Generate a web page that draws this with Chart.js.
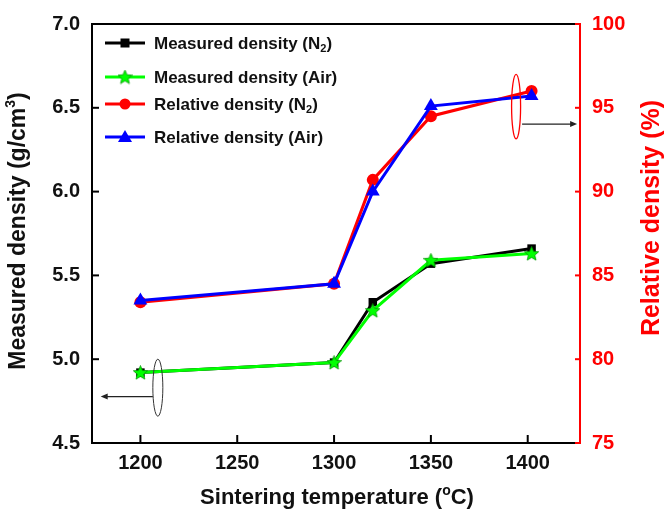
<!DOCTYPE html>
<html>
<head>
<meta charset="utf-8">
<script src="https://cdn.jsdelivr.net/npm/chart.js@4/dist/chart.umd.min.js"></script>
<style>
  body { margin: 0; background: #fff; }
  #wrap { width: 664px; height: 511px; position: relative; }
</style>
</head>
<body>
<div id="wrap"><canvas id="chart"></canvas></div>
<script>
// sintering temperatures (deg C)
const temps = [1200, 1300, 1320, 1350, 1402];
// measured density, g/cm3 (left axis)
const measuredN2 = [4.92, 4.98, 5.34, 5.57, 5.66];
const measuredAir = [4.92, 4.98, 5.29, 5.59, 5.63];
// relative density, % (right axis)
const relativeN2 = [83.4, 84.5, 90.7, 94.5, 96.0];
const relativeAir = [83.5, 84.5, 90.0, 95.1, 95.7];

const xTicks = [1200, 1250, 1300, 1350, 1400];
const yTicks = [4.5, 5.0, 5.5, 6.0, 6.5, 7.0];
const y1Ticks = [75, 80, 85, 90, 95, 100];

const FONT = "'Liberation Sans', Arial, sans-serif";
Chart.defaults.font.family = FONT;

// filled five point star used as point style
function makeStar(size, color) {
  const c = document.createElement('canvas');
  c.width = size;
  c.height = size;
  const g = c.getContext('2d');
  const cx = size / 2, cy = size / 2 + 0.5;
  const ro = size / 2, ri = ro * 0.45;
  g.beginPath();
  for (let i = 0; i < 10; i++) {
    const r = i % 2 === 0 ? ro : ri;
    const a = -Math.PI / 2 + i * Math.PI / 5;
    g.lineTo(cx + r * Math.cos(a), cy + r * Math.sin(a));
  }
  g.closePath();
  g.fillStyle = color;
  g.fill();
  g.strokeStyle = '#009900';
  g.lineWidth = 0.8;
  g.stroke();
  return c;
}
const star = makeStar(15, '#00ff00');

function pts(ys) {
  return temps.map((t, i) => ({ x: t, y: ys[i] }));
}

function drawArrow(ctx, x1, y, x2) {
  const dir = x2 > x1 ? 1 : -1;
  ctx.beginPath();
  ctx.moveTo(x1, y);
  ctx.lineTo(x2 - dir * 6, y);
  ctx.strokeStyle = '#222';
  ctx.lineWidth = 1.3;
  ctx.stroke();
  ctx.beginPath();
  ctx.moveTo(x2, y);
  ctx.lineTo(x2 - dir * 7, y - 3);
  ctx.lineTo(x2 - dir * 7, y + 3);
  ctx.closePath();
  ctx.fillStyle = '#222';
  ctx.fill();
}

// text with sub/superscript parts: [[text, 'n'|'sub'|'sup'], ...]
function richWidth(ctx, parts, size) {
  let w = 0;
  parts.forEach(([t, k]) => {
    ctx.font = 'bold ' + (k === 'n' ? size : Math.round(size * 0.62)) + 'px ' + FONT;
    w += ctx.measureText(t).width;
  });
  return w;
}
function richText(ctx, parts, x, y, size, color) {
  ctx.fillStyle = color;
  ctx.textBaseline = 'middle';
  ctx.textAlign = 'left';
  parts.forEach(([t, k]) => {
    let s = size, dy = 0;
    if (k === 'sub') { s = Math.round(size * 0.62); dy = size * 0.32; }
    if (k === 'sup') { s = Math.round(size * 0.62); dy = -size * 0.33; }
    ctx.font = 'bold ' + s + 'px ' + FONT;
    ctx.fillText(t, x, y + dy);
    x += ctx.measureText(t).width;
  });
}

const extras = {
  id: 'extras',
  afterDraw(chart) {
    const ctx = chart.ctx;
    const a = chart.chartArea;
    const xs = chart.scales.x, ys = chart.scales.y, ys1 = chart.scales.y1;
    ctx.save();

    // top frame line
    ctx.strokeStyle = '#000';
    ctx.lineWidth = 2;
    ctx.beginPath();
    ctx.moveTo(a.left, a.top);
    ctx.lineTo(a.right, a.top);
    ctx.stroke();

    // inward ticks
    ctx.lineWidth = 2;
    xTicks.forEach((v) => {
      const px = xs.getPixelForValue(v);
      ctx.beginPath(); ctx.moveTo(px, a.bottom); ctx.lineTo(px, a.bottom - 8); ctx.stroke();
    });
    yTicks.forEach((v) => {
      const py = ys.getPixelForValue(v);
      ctx.beginPath(); ctx.moveTo(a.left, py); ctx.lineTo(a.left + 7, py); ctx.stroke();
    });
    ctx.strokeStyle = '#ff0000';
    y1Ticks.forEach((v) => {
      const py = ys1.getPixelForValue(v);
      ctx.beginPath(); ctx.moveTo(a.right, py); ctx.lineTo(a.right - 5, py); ctx.stroke();
    });

    // ellipse + arrow for left axis group
    ctx.lineWidth = 1;
    ctx.strokeStyle = '#333';
    const ex = xs.getPixelForValue(1209);
    const eTop = ys.getPixelForValue(5.0), eBot = ys.getPixelForValue(4.66);
    ctx.beginPath();
    ctx.ellipse(ex, (eTop + eBot) / 2, 5, (eBot - eTop) / 2, 0, 0, Math.PI * 2);
    ctx.stroke();
    drawArrow(ctx, ex - 5, ys.getPixelForValue(4.777), xs.getPixelForValue(1179.5));

    // ellipse + arrow for right axis group
    ctx.strokeStyle = '#ff0000';
    const rx = xs.getPixelForValue(1394);
    const rTop = ys1.getPixelForValue(97.0), rBot = ys1.getPixelForValue(93.15);
    ctx.beginPath();
    ctx.ellipse(rx, (rTop + rBot) / 2, 4.5, (rBot - rTop) / 2, 0, 0, Math.PI * 2);
    ctx.stroke();
    drawArrow(ctx, rx + 6, ys1.getPixelForValue(94.03), xs.getPixelForValue(1425.5));

    // legend
    const rows = [
      { y: 43, color: '#000', shape: 'rect', parts: [['Measured density (N', 'n'], ['2', 'sub'], [')', 'n']] },
      { y: 77, color: '#00ff00', shape: 'star', parts: [['Measured density (Air)', 'n']] },
      { y: 104, color: '#ff0000', shape: 'circle', parts: [['Relative density (N', 'n'], ['2', 'sub'], [')', 'n']] },
      { y: 137, color: '#0000ff', shape: 'triangle', parts: [['Relative density (Air)', 'n']] }
    ];
    rows.forEach((r) => {
      ctx.strokeStyle = r.color;
      ctx.lineWidth = 3;
      ctx.beginPath(); ctx.moveTo(105, r.y); ctx.lineTo(145, r.y); ctx.stroke();
      ctx.fillStyle = r.color;
      const cx = 125;
      if (r.shape === 'rect') {
        ctx.fillRect(cx - 4.5, r.y - 4.5, 9, 9);
      } else if (r.shape === 'star') {
        ctx.drawImage(star, cx - 7.5, r.y - 7.5);
      } else if (r.shape === 'circle') {
        ctx.beginPath(); ctx.arc(cx, r.y, 5.5, 0, Math.PI * 2); ctx.fill();
      } else {
        ctx.beginPath();
        ctx.moveTo(cx, r.y - 7); ctx.lineTo(cx + 7, r.y + 5); ctx.lineTo(cx - 7, r.y + 5);
        ctx.closePath(); ctx.fill();
      }
      richText(ctx, r.parts, 154, r.y + 1, 17, '#111');
    });

    // axis titles
    const xt = [['Sintering temperature (', 'n'], ['o', 'sup'], ['C)', 'n']];
    const wx = richWidth(ctx, xt, 22);
    richText(ctx, xt, 337 - wx / 2, 498, 22, '#111');

    const yt = [['Measured density (g/cm', 'n'], ['3', 'sup'], [')', 'n']];
    const wy = richWidth(ctx, yt, 23);
    ctx.save();
    ctx.translate(19, 231);
    ctx.rotate(-Math.PI / 2);
    richText(ctx, yt, -wy / 2, 0, 23, '#111');
    ctx.restore();

    const y1t = [['Relative density (%)', 'n']];
    const wy1 = richWidth(ctx, y1t, 25);
    ctx.save();
    ctx.translate(652, 218);
    ctx.rotate(-Math.PI / 2);
    richText(ctx, y1t, -wy1 / 2, 0, 25, '#ff0000');
    ctx.restore();

    ctx.restore();
  }
};

const tickFont = { size: 20, weight: 'bold', family: FONT };

new Chart(document.getElementById('chart'), {
  type: 'line',
  data: {
    datasets: [
      {
        label: 'Relative density (Air)', data: pts(relativeAir), yAxisID: 'y1', order: 0,
        borderColor: '#0000ff', backgroundColor: '#0000ff', borderWidth: 3,
        pointStyle: 'triangle', pointRadius: 8, pointBorderWidth: 0
      },
      {
        label: 'Relative density (N2)', data: pts(relativeN2), yAxisID: 'y1', order: 1,
        borderColor: '#ff0000', backgroundColor: '#ff0000', borderWidth: 3,
        pointStyle: 'circle', pointRadius: 6, pointBorderWidth: 0
      },
      {
        label: 'Measured density (Air)', data: pts(measuredAir), yAxisID: 'y', order: 2,
        borderColor: '#00ff00', backgroundColor: '#00ff00', borderWidth: 3,
        pointStyle: star, pointRadius: 7
      },
      {
        label: 'Measured density (N2)', data: pts(measuredN2), yAxisID: 'y', order: 3,
        borderColor: '#000000', backgroundColor: '#000000', borderWidth: 3,
        pointStyle: 'rect', pointRadius: 6, pointBorderWidth: 0
      }
    ]
  },
  options: {
    responsive: true,
    maintainAspectRatio: false,
    animation: false,
    layout: { padding: { top: 16, left: 0, right: 0, bottom: 0 } },
    plugins: { legend: { display: false }, tooltip: { enabled: false } },
    scales: {
      x: {
        type: 'linear', min: 1175, max: 1427,
        afterBuildTicks: (s) => { s.ticks = xTicks.map((v) => ({ value: v })); },
        afterFit: (s) => { s.height = 68; },
        grid: { display: false, drawTicks: false },
        border: { display: true, color: '#000', width: 2 },
        ticks: { font: tickFont, color: '#111', padding: 8, maxRotation: 0, callback: (v) => String(v) }
      },
      y: {
        type: 'linear', position: 'left', min: 4.5, max: 7.0,
        afterBuildTicks: (s) => { s.ticks = yTicks.map((v) => ({ value: v })); },
        afterFit: (s) => { s.width = 92; },
        grid: { display: false, drawTicks: false },
        border: { display: true, color: '#000', width: 2 },
        ticks: { font: tickFont, color: '#111', padding: 12, callback: (v) => v.toFixed(1) }
      },
      y1: {
        type: 'linear', position: 'right', min: 75, max: 100,
        afterBuildTicks: (s) => { s.ticks = y1Ticks.map((v) => ({ value: v })); },
        afterFit: (s) => { s.width = 84; },
        grid: { display: false, drawTicks: false },
        border: { display: true, color: '#ff0000', width: 2 },
        ticks: { font: tickFont, color: '#ff0000', padding: 12 }
      }
    }
  },
  plugins: [extras]
});
</script>
</body>
</html>
